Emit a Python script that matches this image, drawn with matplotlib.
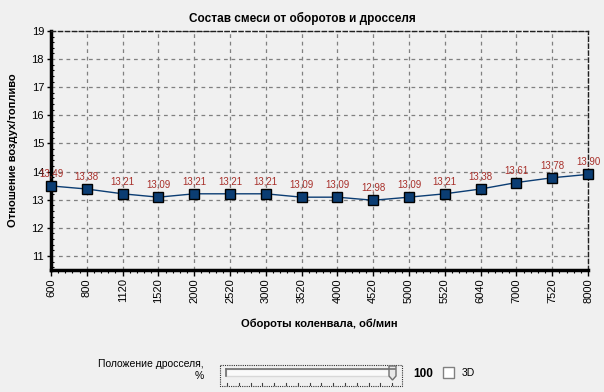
import matplotlib.pyplot as plt
from matplotlib.patches import Rectangle, Polygon
from matplotlib.ticker import MultipleLocator

plt.rcParams['font.family'] = ['Liberation Sans', 'DejaVu Sans']

rpm = ['600', '800', '1120', '1520', '2000', '2520', '3000', '3520',
       '4000', '4520', '5000', '5520', '6040', '7000', '7520', '8000']
afr = [13.49, 13.38, 13.21, 13.09, 13.21, 13.21, 13.21, 13.09,
       13.09, 12.98, 13.09, 13.21, 13.38, 13.61, 13.78, 13.90]
throttle = 100

bg = '#f0f0f0'
fig = plt.figure(figsize=(6.04, 3.92), dpi=100, facecolor=bg)
ax = fig.add_axes([51 / 604, 1 - 270 / 392, 537 / 604, 239 / 392])
ax.set_facecolor(bg)

x = list(range(len(rpm)))
ax.plot(x, afr, color='#0b3d73', lw=1.0, marker='s', ms=7,
        mfc='#0b3d73', mec='black', mew=1.0, clip_on=False, zorder=5)
for xi, v in zip(x, afr):
    ax.annotate('{:.2f}'.format(v).replace('.', ','), (xi, v),
                xytext=(0, 9), textcoords='offset points', ha='center',
                va='center', fontsize=7, color='#a8302a', zorder=6)

ax.set_xlim(0, len(rpm) - 1)
ax.set_ylim(10.5, 19)
ax.set_xticks(x)
ax.set_xticklabels(rpm, rotation=90, fontsize=8)
ax.xaxis.set_minor_locator(MultipleLocator(0.2))
ax.yaxis.set_minor_locator(MultipleLocator(0.2))
ax.set_yticks(range(11, 20))
ax.tick_params(axis='y', which='major', labelsize=8, length=3, width=1, pad=2)
ax.tick_params(axis='y', which='minor', direction='in', length=2, width=0.8)
ax.tick_params(axis='x', which='major', length=4, width=1, pad=2)
ax.tick_params(axis='x', which='minor', length=2, width=0.8)

ax.grid(True, color='#808080', ls=(0, (3, 3)), lw=0.9)
for s in ['left', 'bottom']:
    ax.spines[s].set_linewidth(2.5)
    ax.spines[s].set_color('black')
for s in ['top', 'right']:
    ax.spines[s].set_linestyle((0, (3, 2)))
    ax.spines[s].set_linewidth(1)
    ax.spines[s].set_color('#202020')

fig.text(0.5, 1 - 18 / 392, 'Состав смеси от оборотов и дросселя',
         ha='center', va='center', fontsize=8.5, fontweight='bold')
ax.set_ylabel('Отношение воздух/топливо', fontsize=8, fontweight='bold',
              labelpad=10)
ax.set_xlabel('Обороты коленвала, об/мин', fontsize=8, fontweight='bold',
              labelpad=11)

# throttle slider panel below the chart
ov = fig.add_axes([0, 0, 1, 1], zorder=10)
ov.set_xlim(0, 604)
ov.set_ylim(392, 0)
ov.axis('off')
ov.text(204, 364, 'Положение дросселя,', ha='right', va='center', fontsize=7.5)
ov.text(204, 376, '%', ha='right', va='center', fontsize=7.5)
ov.add_patch(Rectangle((220, 365), 182, 21, fill=False, ec='#303030',
                       ls=(0, (1, 1)), lw=0.8))
ov.add_patch(Rectangle((226, 369), 169, 7, fc='#fafafa', ec='#d8d8d8', lw=1))
ov.plot([226, 395], [369, 369], color='#707070', lw=1.2)
ov.plot([226, 226], [369, 376], color='#707070', lw=1.2)
ov.add_patch(Polygon([(389, 366), (396, 366), (396, 376), (392.5, 380),
                      (389, 376)], closed=True, fc='#e8e8e8', ec='#707070',
                     lw=1))
for i in range(15):
    tx = 227 + i * 11.8
    ov.plot([tx, tx], [382.5, 384.5], color='#404040', lw=0.8)
ov.text(413, 374, str(throttle), ha='left', va='center', fontsize=8.5,
        fontweight='bold')
ov.add_patch(Rectangle((443, 367), 11, 11, fc='white', ec='#808080', lw=1))
ov.text(462, 373, '3D', ha='left', va='center', fontsize=7.5)

fig.savefig('out.png', dpi=100, facecolor=bg)
